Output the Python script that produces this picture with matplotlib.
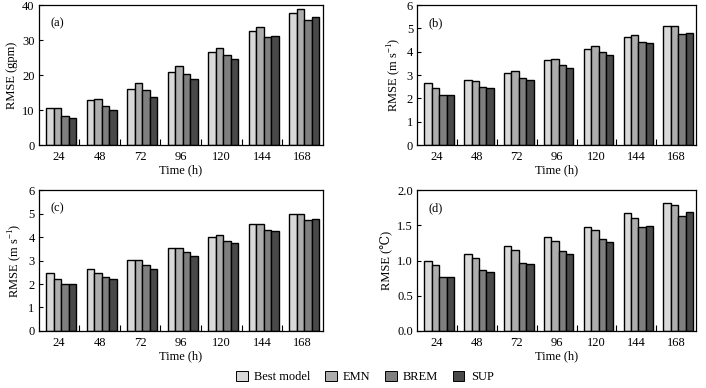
import numpy as np
import matplotlib
matplotlib.use("Agg")
import matplotlib.pyplot as plt
from matplotlib.patches import Patch

plt.rcParams['font.family'] = ['Liberation Serif', 'DejaVu Serif']
plt.rcParams['mathtext.fontset'] = 'custom'
plt.rcParams['mathtext.rm'] = 'Liberation Serif'
plt.rcParams['font.size'] = 9

times = ["24", "48", "72", "96", "120", "144", "168"]
models = ["Best model", "EMN", "BREM", "SUP"]
colors = ["#d9d9d9", "#adadad", "#7f7f7f", "#494949"]

# (a) geopotential height, gpm
a_best = [10.5, 12.9, 15.9, 20.9, 26.5, 32.5, 37.6]
a_emn = [10.5, 13.2, 17.6, 22.5, 27.6, 33.6, 38.8]
a_brem = [8.4, 11.1, 15.6, 20.4, 25.6, 30.8, 35.6]
a_sup = [7.6, 10.0, 13.6, 18.8, 24.5, 31.2, 36.5]

# (b) wind, m/s
b_best = [2.66, 2.77, 3.10, 3.63, 4.13, 4.64, 5.09]
b_emn = [2.43, 2.73, 3.17, 3.67, 4.24, 4.70, 5.09]
b_brem = [2.14, 2.50, 2.89, 3.44, 3.97, 4.41, 4.74]
b_sup = [2.14, 2.43, 2.77, 3.29, 3.84, 4.36, 4.81]

# (c) wind, m/s
c_best = [2.49, 2.62, 3.02, 3.55, 4.00, 4.54, 5.00]
c_emn = [2.21, 2.49, 3.02, 3.55, 4.07, 4.54, 5.00]
c_brem = [1.99, 2.32, 2.79, 3.38, 3.85, 4.30, 4.71]
c_sup = [1.99, 2.21, 2.64, 3.20, 3.73, 4.24, 4.77]

# (d) temperature, C
d_best = [0.99, 1.09, 1.20, 1.34, 1.47, 1.67, 1.82]
d_emn = [0.93, 1.03, 1.15, 1.28, 1.43, 1.61, 1.79]
d_brem = [0.77, 0.86, 0.97, 1.13, 1.30, 1.48, 1.63]
d_sup = [0.76, 0.84, 0.95, 1.09, 1.26, 1.49, 1.69]

panels = [
    ("(a)", [a_best, a_emn, a_brem, a_sup], "RMSE (gpm)", 40, 10, "{:.0f}"),
    ("(b)", [b_best, b_emn, b_brem, b_sup], "RMSE (m s$^{-1}$)", 6, 1, "{:.0f}"),
    ("(c)", [c_best, c_emn, c_brem, c_sup], "RMSE (m s$^{-1}$)", 6, 1, "{:.0f}"),
    ("(d)", [d_best, d_emn, d_brem, d_sup], "RMSE (\u2103)", 2.0, 0.5, "{:.1f}"),
]

rects = [
    [0.055, 0.626, 0.402, 0.361],
    [0.591, 0.626, 0.395, 0.361],
    [0.055, 0.147, 0.402, 0.363],
    [0.591, 0.147, 0.395, 0.363],
]

fig = plt.figure(figsize=(7.06, 3.88), dpi=100)
x = np.arange(len(times))
w = 0.185

for (label, series, ylab, ymax, step, fmt), r in zip(panels, rects):
    ax = fig.add_axes(r)
    for i, vals in enumerate(series):
        ax.bar(x + (i - 1.5) * w + 0.05, vals, w, color=colors[i],
               edgecolor="black", linewidth=1.0)
    ax.set_xlim(-0.5, len(times) - 0.5)
    ax.set_ylim(0, ymax)
    yt = np.arange(0, ymax + step / 2, step)
    ax.set_yticks(yt)
    ax.set_yticklabels([fmt.format(v) for v in yt])
    # separators between groups as inward ticks, labels at centres
    ax.set_xticks(np.arange(0.5, len(times) - 0.5, 1))
    ax.set_xticklabels([])
    ax.set_xticks(x, minor=True)
    ax.set_xticklabels(times, minor=True)
    ax.tick_params(axis="x", which="major", direction="in", length=4, width=0.8)
    ax.tick_params(axis="x", which="minor", length=0, pad=4)
    ax.tick_params(axis="y", direction="in", length=3, width=0.8, pad=3)
    for s in ax.spines.values():
        s.set_linewidth(0.9)
    ax.set_xlabel("Time (h)", labelpad=1)
    ax.set_ylabel(ylab, labelpad=3)
    ax.text(0.04, 0.87, label, transform=ax.transAxes, ha="left", va="center")

handles = [Patch(facecolor=c, edgecolor="black", linewidth=0.7) for c in colors]
fig.legend(handles, models, loc="center", bbox_to_anchor=(0.517, 0.028),
           ncol=4, frameon=False, handlelength=0.9, handleheight=0.9,
           handletextpad=0.5, columnspacing=1.2)

fig.savefig("out.png", dpi=100)
